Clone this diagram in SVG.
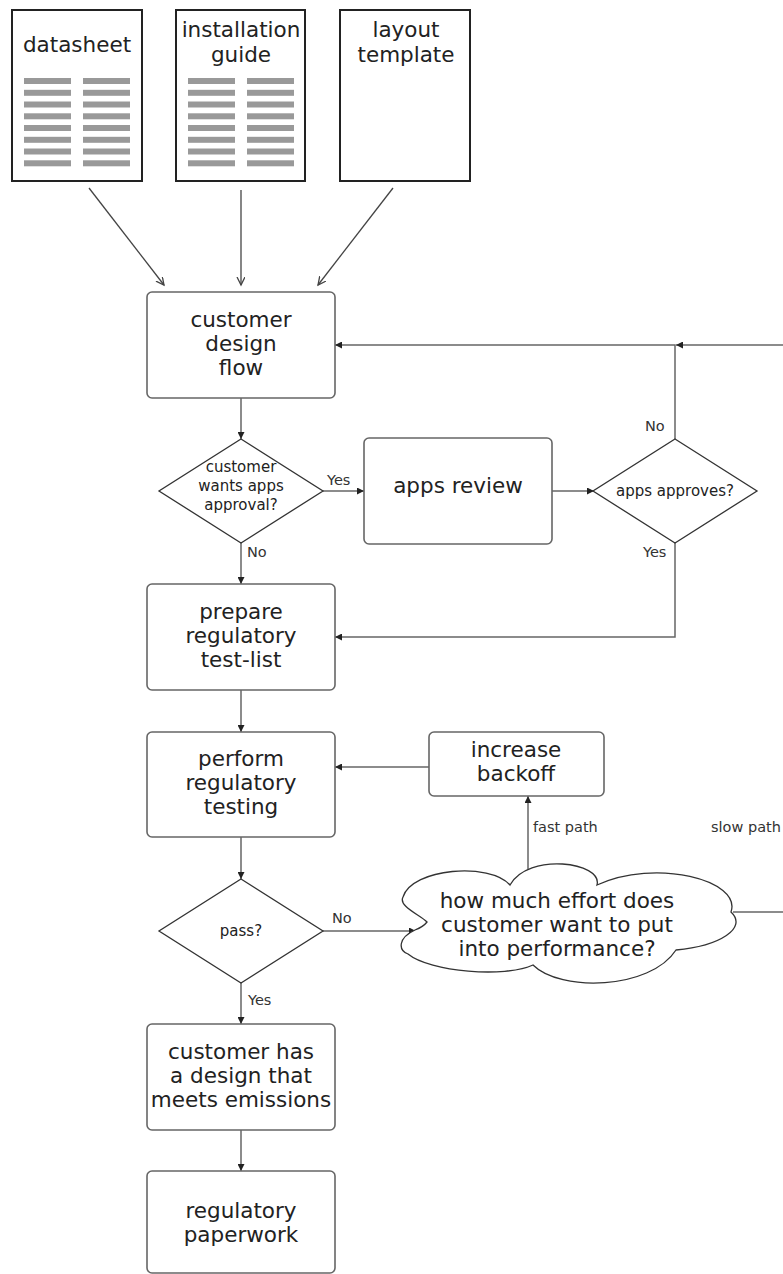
<svg xmlns="http://www.w3.org/2000/svg" width="783" height="1274" viewBox="0 0 783 1274">
<style>
text{font-family:"DejaVu Sans","Liberation Sans",sans-serif;fill:#222}
.big{font-size:21.5px;text-anchor:middle}
.mid{font-size:15px;text-anchor:middle}
.lbl{font-size:14.5px;fill:#333}
.doc{fill:#fff;stroke:#222;stroke-width:2}
.bar{fill:#999}
.box{fill:#fff;stroke:#666;stroke-width:1.6}
.dia{fill:#fff;stroke:#333;stroke-width:1.3}
.con{fill:none;stroke:#666;stroke-width:1.5}
.dcon{fill:none;stroke:#444;stroke-width:1.3}
</style>
<defs>
<marker id="ah" markerUnits="userSpaceOnUse" markerWidth="8" markerHeight="7" refX="7" refY="3.5" orient="auto">
<path d="M0,0 L7,3.5 L0,7 z" fill="#222"/>
</marker>
<marker id="vh" markerUnits="userSpaceOnUse" markerWidth="10" markerHeight="10" refX="8" refY="4" orient="auto">
<path d="M0,0 L8,4 L0,8" fill="none" stroke="#444" stroke-width="1.3"/>
</marker>
</defs>
<g id="connectors">
<line class="dcon" x1="89" y1="188" x2="164" y2="285" marker-end="url(#vh)"/>
<line class="dcon" x1="241" y1="190" x2="241" y2="285" marker-end="url(#vh)"/>
<line class="dcon" x1="393" y1="188" x2="318" y2="285" marker-end="url(#vh)"/>
<line class="con" x1="241" y1="398" x2="241" y2="439" marker-end="url(#ah)"/>
<line class="con" x1="323" y1="491" x2="364" y2="491" marker-end="url(#ah)"/>
<line class="con" x1="552" y1="491" x2="594" y2="491" marker-end="url(#ah)"/>
<polyline class="con" points="675,439 675,345 335,345" marker-end="url(#ah)"/>
<line class="con" x1="783" y1="345" x2="676" y2="345" marker-end="url(#ah)"/>
<polyline class="con" points="675,543 675,637 335,637" marker-end="url(#ah)"/>
<line class="con" x1="241" y1="543" x2="241" y2="584" marker-end="url(#ah)"/>
<line class="con" x1="241" y1="690" x2="241" y2="732" marker-end="url(#ah)"/>
<line class="con" x1="429" y1="767" x2="335" y2="767" marker-end="url(#ah)"/>
<line class="con" x1="528" y1="871" x2="528" y2="796" marker-end="url(#ah)"/>
<line class="con" x1="241" y1="837" x2="241" y2="879" marker-end="url(#ah)"/>
<line class="con" x1="323" y1="931" x2="416" y2="931" marker-end="url(#ah)"/>
<line class="con" x1="733" y1="912" x2="783" y2="912"/>
<line class="con" x1="241" y1="983" x2="241" y2="1024" marker-end="url(#ah)"/>
<line class="con" x1="241" y1="1130" x2="241" y2="1171" marker-end="url(#ah)"/>
<text class="lbl" x="327" y="485">Yes</text>
<text class="lbl" x="645" y="431">No</text>
<text class="lbl" x="643" y="557">Yes</text>
<text class="lbl" x="247" y="557">No</text>
<text class="lbl" x="533" y="832">fast path</text>
<text class="lbl" x="711" y="832">slow path</text>
<text class="lbl" x="332" y="923">No</text>
<text class="lbl" x="248" y="1005">Yes</text>
</g>
<g id="datasheet">
<rect class="doc" x="12" y="10" width="130" height="171"/>
<text class="big" x="77" y="52">datasheet</text>
<g class="bar">
<rect x="24" y="78" width="47" height="6"/><rect x="83" y="78" width="47" height="6"/>
<rect x="24" y="89.8" width="47" height="6"/><rect x="83" y="89.8" width="47" height="6"/>
<rect x="24" y="101.5" width="47" height="6"/><rect x="83" y="101.5" width="47" height="6"/>
<rect x="24" y="113.3" width="47" height="6"/><rect x="83" y="113.3" width="47" height="6"/>
<rect x="24" y="125" width="47" height="6"/><rect x="83" y="125" width="47" height="6"/>
<rect x="24" y="136.8" width="47" height="6"/><rect x="83" y="136.8" width="47" height="6"/>
<rect x="24" y="148.5" width="47" height="6"/><rect x="83" y="148.5" width="47" height="6"/>
<rect x="24" y="160.3" width="47" height="6"/><rect x="83" y="160.3" width="47" height="6"/>
</g>
</g>
<g id="installation-guide">
<rect class="doc" x="176" y="10" width="129" height="171"/>
<text class="big" x="241" y="36.5">installation</text>
<text class="big" x="241" y="62">guide</text>
<g class="bar">
<rect x="188" y="78" width="47" height="6"/><rect x="247" y="78" width="47" height="6"/>
<rect x="188" y="89.8" width="47" height="6"/><rect x="247" y="89.8" width="47" height="6"/>
<rect x="188" y="101.5" width="47" height="6"/><rect x="247" y="101.5" width="47" height="6"/>
<rect x="188" y="113.3" width="47" height="6"/><rect x="247" y="113.3" width="47" height="6"/>
<rect x="188" y="125" width="47" height="6"/><rect x="247" y="125" width="47" height="6"/>
<rect x="188" y="136.8" width="47" height="6"/><rect x="247" y="136.8" width="47" height="6"/>
<rect x="188" y="148.5" width="47" height="6"/><rect x="247" y="148.5" width="47" height="6"/>
<rect x="188" y="160.3" width="47" height="6"/><rect x="247" y="160.3" width="47" height="6"/>
</g>
</g>
<g id="layout-template">
<rect class="doc" x="340" y="10" width="130" height="171"/>
<text class="big" x="406" y="36.5">layout</text>
<text class="big" x="406" y="62">template</text>
</g>
<g id="customer-design-flow">
<rect class="box" x="147" y="292" width="188" height="106" rx="5"/>
<text class="big" x="241" y="327">customer</text>
<text class="big" x="241" y="351">design</text>
<text class="big" x="241" y="375">flow</text>
</g>
<g id="wants-approval">
<polygon class="dia" points="241,439 323,491 241,543 159,491"/>
<text class="mid" x="241" y="472">customer</text>
<text class="mid" x="241" y="491">wants apps</text>
<text class="mid" x="241" y="510">approval?</text>
</g>
<g id="apps-review">
<rect class="box" x="364" y="438" width="188" height="106" rx="5"/>
<text class="big" x="458" y="493">apps review</text>
</g>
<g id="apps-approves">
<polygon class="dia" points="675,439 757,491 675,543 593,491"/>
<text class="mid" x="675" y="496">apps approves?</text>
</g>
<g id="prepare-list">
<rect class="box" x="147" y="584" width="188" height="106" rx="5"/>
<text class="big" x="241" y="619">prepare</text>
<text class="big" x="241" y="643">regulatory</text>
<text class="big" x="241" y="667">test-list</text>
</g>
<g id="perform-testing">
<rect class="box" x="147" y="732" width="188" height="105" rx="5"/>
<text class="big" x="241" y="766">perform</text>
<text class="big" x="241" y="790">regulatory</text>
<text class="big" x="241" y="814">testing</text>
</g>
<g id="increase-backoff">
<rect class="box" x="429" y="732" width="175" height="64" rx="5"/>
<text class="big" x="516" y="757">increase</text>
<text class="big" x="516" y="781">backoff</text>
</g>
<g id="pass">
<polygon class="dia" points="241,879 323,931 241,983 159,931"/>
<text class="mid" x="241" y="936">pass?</text>
</g>
<g id="effort-cloud">
<path fill="#fff" stroke="#333" stroke-width="1.3" d="M415,930 C398,938 398,950 408,954 C430,972 505,978 533,965 C560,992 650,990 676,950 C720,946 748,928 731,912 C742,880 655,858 597,885 C603,862 528,852 510,885 C490,862 412,868 403,897 C398,906 420,915 427,922 C424,926 420,928 415,930 Z"/>
<text class="big" x="557" y="908">how much effort does</text>
<text class="big" x="557" y="932">customer want to put</text>
<text class="big" x="557" y="956">into performance?</text>
</g>
<g id="meets-emissions">
<rect class="box" x="147" y="1024" width="188" height="106" rx="5"/>
<text class="big" x="241" y="1059">customer has</text>
<text class="big" x="241" y="1083">a design that</text>
<text class="big" x="241" y="1107">meets emissions</text>
</g>
<g id="paperwork">
<rect class="box" x="147" y="1171" width="188" height="102" rx="5"/>
<text class="big" x="241" y="1218">regulatory</text>
<text class="big" x="241" y="1242">paperwork</text>
</g>
</svg>
